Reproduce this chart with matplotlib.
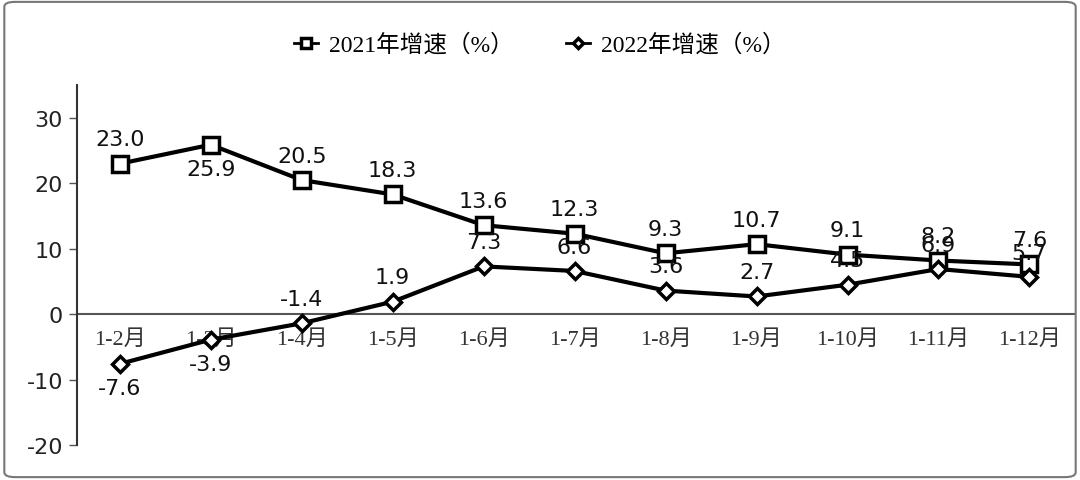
import matplotlib.pyplot as plt
from matplotlib.patches import FancyBboxPatch

months = ['1-2月', '1-3月', '1-4月', '1-5月', '1-6月', '1-7月', '1-8月',
          '1-9月', '1-10月', '1-11月', '1-12月']
growth_2021 = [23.0, 25.9, 20.5, 18.3, 13.6, 12.3, 9.3, 10.7, 9.1, 8.2, 7.6]
growth_2022 = [-7.6, -3.9, -1.4, 1.9, 7.3, 6.6, 3.6, 2.7, 4.5, 6.9, 5.7]
# +1 label above the point, -1 below
pos_2021 = [1, -1, 1, 1, 1, 1, 1, 1, 1, 1, 1]
pos_2022 = [-1, -1, 1, 1, 1, 1, 1, 1, 1, 1, 1]
yticks = [-20, -10, 0, 10, 20, 30]

cjk = ['Liberation Serif', 'Noto Sans CJK SC']

fig = plt.figure(figsize=(10.8, 4.81), dpi=100)
fig.patches.append(FancyBboxPatch((0.004, 0.006), 0.992, 0.988,
                                  boxstyle='round,pad=0,rounding_size=0.01',
                                  transform=fig.transFigure, fill=False,
                                  edgecolor='#777777', linewidth=1.5))

ax = fig.add_axes([0.0713, 0.0728, 0.924, 0.748])
x = list(range(len(months)))

ax.plot(x, growth_2021, color='black', lw=3, marker='s', ms=11,
        mfc='white', mec='black', mew=2.5, label='2021年增速（%）', zorder=3)
ax.plot(x, growth_2022, color='black', lw=3, marker='D', ms=8,
        mfc='white', mec='black', mew=2.5, label='2022年增速（%）', zorder=3)

for vals, pos in [(growth_2021, pos_2021), (growth_2022, pos_2022)]:
    for xi, v, p in zip(x, vals, pos):
        ax.annotate(f'{v:.1f}', (xi, v), xytext=(0, 17.5 * p),
                    textcoords='offset points', ha='center', va='center',
                    fontsize=16, family='DejaVu Sans', color='#111111', zorder=4)

ax.axhline(0, color='#555555', lw=1.5, zorder=1)
for xi, m in zip(x, months):
    ax.text(xi, -3.8, m, ha='center', va='center',
            fontsize=16, family=cjk, color='#333333', zorder=2)

ax.set_xlim(-0.47, 10.5)
ax.set_ylim(-20, 35)
ax.set_yticks(yticks)
ax.set_yticklabels([str(t) for t in yticks], fontsize=16, family='DejaVu Sans',
                   color='#222222')
ax.tick_params(axis='y', length=6, width=1, color='#555555', pad=4)
ax.set_xticks([])
for s in ['top', 'right', 'bottom']:
    ax.spines[s].set_visible(False)
ax.spines['left'].set_color('#333333')
ax.spines['left'].set_linewidth(1.5)

leg = fig.legend(loc='center', bbox_to_anchor=(0.5, 0.905), ncol=2, frameon=False,
                 prop={'family': cjk, 'size': 17}, markerscale=0.6,
                 handlelength=1.0, columnspacing=2.2, handletextpad=0.5)
for h in leg.legend_handles:
    h.set_linewidth(2)

fig.savefig('out.png', dpi=100)
